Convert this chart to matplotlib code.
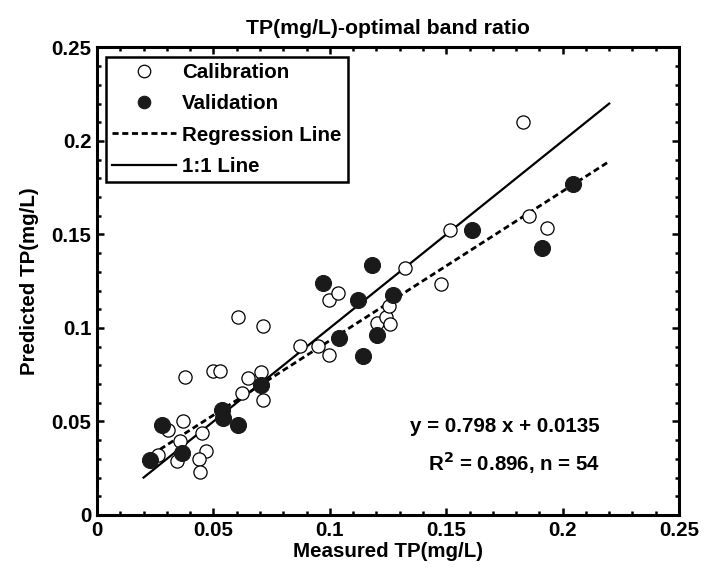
import numpy as np
import matplotlib
matplotlib.use('Agg')
import matplotlib.pyplot as plt
from matplotlib.ticker import MultipleLocator

plt.rcParams['font.family'] = ['Liberation Sans', 'DejaVu Sans']
plt.rcParams['font.weight'] = 'bold'

# Calibration points (open circles)
cal_x = [0.0262, 0.0306, 0.0371, 0.0357, 0.0342, 0.0450, 0.0470, 0.0437, 0.0442,
         0.0378, 0.0497, 0.0528, 0.0650, 0.0703, 0.0621, 0.0714, 0.0607, 0.0714,
         0.0872, 0.0951, 0.0998, 0.0998, 0.1037, 0.1201, 0.1241, 0.1259, 0.1256,
         0.1323, 0.1829, 0.1857, 0.1932, 0.1517, 0.1478]
cal_y = [0.0323, 0.0455, 0.0504, 0.0395, 0.0287, 0.0440, 0.0342, 0.0300, 0.0229,
         0.0736, 0.0772, 0.0772, 0.0731, 0.0766, 0.0651, 0.0615, 0.1057, 0.1012,
         0.0905, 0.0905, 0.0856, 0.1150, 0.1186, 0.1025, 0.1060, 0.1020, 0.1118,
         0.1322, 0.2103, 0.1600, 0.1536, 0.1524, 0.1235]

# Validation points (filled circles)
val_x = [0.0228, 0.0278, 0.0364, 0.0535, 0.0543, 0.0607, 0.0705, 0.1041, 0.0972,
         0.1122, 0.1180, 0.1141, 0.1204, 0.1273, 0.2043, 0.1913, 0.1612]
val_y = [0.0294, 0.0481, 0.0330, 0.0560, 0.0517, 0.0481, 0.0695, 0.0948, 0.1239,
         0.1150, 0.1337, 0.0852, 0.0963, 0.1176, 0.1770, 0.1429, 0.1524]

# regression fit and 1:1 line
slope = 0.798
intercept = 0.0135
line_x = np.array([0.02, 0.22])

ticks = [0, 0.05, 0.1, 0.15, 0.2, 0.25]
tick_labels = ['0', '0.05', '0.1', '0.15', '0.2', '0.25']

fig = plt.figure(figsize=(7.15, 5.72), dpi=100)
ax = fig.add_axes([0.1357, 0.0997, 0.8140, 0.8173])

ax.plot(cal_x, cal_y, 'o', mfc='white', mec='black', ms=9.5, mew=0.9,
        label='Calibration', zorder=3)
ax.plot(val_x, val_y, 'o', mfc='#1a1a1a', mec='#1a1a1a', ms=11.5, mew=0.8,
        label='Validation', zorder=3)
ax.plot(line_x, slope * line_x + intercept, 'k--', lw=2, dashes=(2.2, 1.3),
        label='Regression Line', zorder=2)
ax.plot(line_x, line_x, 'k-', lw=1.6, label='1:1 Line', zorder=2)

ax.set_xlim(0, 0.25)
ax.set_ylim(0, 0.25)
ax.set_xticks(ticks)
ax.set_xticklabels(tick_labels)
ax.set_yticks(ticks)
ax.set_yticklabels(tick_labels)
ax.xaxis.set_minor_locator(MultipleLocator(0.01))
ax.yaxis.set_minor_locator(MultipleLocator(0.01))

ax.tick_params(which='both', direction='in', top=True, right=True,
               labelsize=14.8, width=1.8)
ax.tick_params(which='major', length=5, pad=4)
ax.tick_params(which='minor', length=3)
for lab in ax.get_xticklabels() + ax.get_yticklabels():
    lab.set_fontweight('bold')
for s in ax.spines.values():
    s.set_linewidth(2.2)

ax.set_xlabel('Measured TP(mg/L)', fontsize=14.8, fontweight='bold', labelpad=2)
ax.set_ylabel('Predicted TP(mg/L)', fontsize=14.8, fontweight='bold', labelpad=9)
ax.set_title('TP(mg/L)-optimal band ratio', fontsize=15.3, fontweight='bold', pad=10)

leg = ax.legend(loc='upper left', fontsize=14.8, frameon=True, fancybox=False,
                framealpha=1, edgecolor='black', handlelength=3.1,
                handletextpad=0.3, borderpad=0.3, labelspacing=0.6,
                borderaxespad=0.45)
leg.get_frame().set_linewidth(1.8)
for t in leg.get_texts():
    t.set_fontweight('bold')
leg.legend_handles[0].set_markersize(9)
leg.legend_handles[1].set_markersize(9)

ax.text(0.216, 0.0472, 'y = 0.798 x + 0.0135', ha='right', va='center',
        fontsize=14.8, fontweight='bold')
ax.text(0.216, 0.0278, r'R$^\mathbf{2}$ = 0.896, n = 54', ha='right', va='center',
        fontsize=14.8, fontweight='bold')

fig.savefig('out.png', dpi=100)
